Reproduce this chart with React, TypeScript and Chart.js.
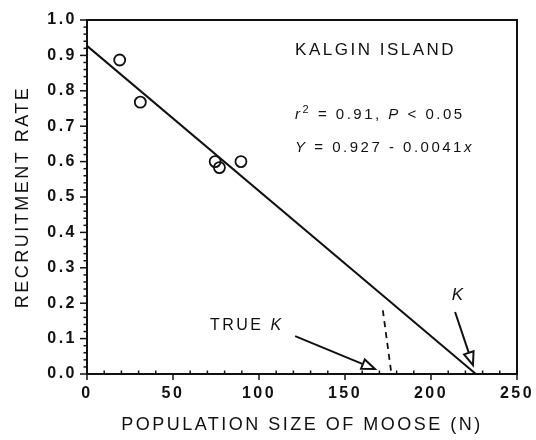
import React, { useEffect, useRef } from "react";
import { Chart, registerables } from "chart.js";

Chart.register(...registerables);

// ---- data ----
const moosePopulation = [19, 31, 74.5, 77, 89.5];
const recruitmentRate = [0.887, 0.768, 0.6, 0.583, 0.6];

// regression Y = 0.927 - 0.0041x
const regIntercept = 0.927;
const regSlope = -0.0041;
const regXIntercept = regIntercept / -regSlope; // K

// dashed drop line to TRUE K
const trueKDropX = [172, 177];
const trueKDropY = [0.18, 0];

const xMin = 0;
const xMax = 250;
const xStep = 50;
const yMin = 0;
const yMax = 1;
const yStep = 0.1;

// annotation anchors (data units)
const annotKalgin = { x: 121, y: 0.915 };
const annotR2 = { x: 121, y: 0.732 };
const annotEq = { x: 121, y: 0.638 };
const annotTrueK = { x: 71.5, y: 0.138 };
const annotK = { x: 212, y: 0.223 };
const arrowTrueK = { from: [121, 0.107], to: [167.4, 0.014] };
const arrowK = { from: [214, 0.175], to: [224.4, 0.025] };

const INK = "#111";
const FAMILY = "'Liberation Sans', Arial, sans-serif";
const SPACING = "2.5px";

type Part = { t: string; italic?: boolean; sup?: boolean };

function drawRich(ctx: CanvasRenderingContext2D, x: number, y: number, parts: Part[], size: number) {
  let cx = x;
  for (const p of parts) {
    const fs = p.sup ? Math.round(size * 0.7) : size;
    ctx.font = `${p.italic ? "italic " : ""}${fs}px ${FAMILY}`;
    const dy = p.sup ? -size * 0.33 : 0;
    ctx.fillText(p.t, cx, y + dy);
    cx += ctx.measureText(p.t).width;
  }
}

function drawArrow(ctx: CanvasRenderingContext2D, x1: number, y1: number, x2: number, y2: number) {
  const ang = Math.atan2(y2 - y1, x2 - x1);
  const len = 13;
  const half = 5;
  const bx = x2 - Math.cos(ang) * len;
  const by = y2 - Math.sin(ang) * len;
  ctx.beginPath();
  ctx.moveTo(x1, y1);
  ctx.lineTo(bx, by);
  ctx.stroke();
  const px = -Math.sin(ang) * half;
  const py = Math.cos(ang) * half;
  ctx.beginPath();
  ctx.moveTo(x2, y2);
  ctx.lineTo(bx + px, by + py);
  ctx.lineTo(bx - px, by - py);
  ctx.closePath();
  ctx.fillStyle = "#fff";
  ctx.fill();
  ctx.stroke();
}

const spacingPlugin = {
  id: "spacing",
  beforeUpdate(chart: any) {
    (chart.ctx as any).letterSpacing = SPACING;
  },
  beforeDraw(chart: any) {
    (chart.ctx as any).letterSpacing = SPACING;
  },
};

const framePlugin = {
  id: "frame",
  afterDraw(chart: any) {
    const { ctx, chartArea: a, scales } = chart;
    const xs = scales.x;
    const ys = scales.y;
    ctx.save();
    ctx.strokeStyle = INK;
    ctx.lineCap = "butt";
    // top & right border
    ctx.lineWidth = 2;
    ctx.beginPath();
    ctx.moveTo(a.left, a.top);
    ctx.lineTo(a.right, a.top);
    ctx.lineTo(a.right, a.bottom);
    ctx.stroke();
    // y ticks: major outside, minor outside shorter
    ctx.lineWidth = 1.5;
    const nY = Math.round((yMax - yMin) / (yStep / 5));
    for (let i = 0; i <= nY; i++) {
      const v = yMin + (i * yStep) / 5;
      const py = ys.getPixelForValue(v);
      const major = i % 5 === 0;
      ctx.beginPath();
      ctx.moveTo(a.left - (major ? 7 : 3.5), py);
      ctx.lineTo(a.left, py);
      ctx.stroke();
    }
    // x ticks: major downward, minor upward
    const nX = Math.round((xMax - xMin) / (xStep / 5));
    for (let i = 0; i <= nX; i++) {
      const v = xMin + (i * xStep) / 5;
      const px = xs.getPixelForValue(v);
      const major = i % 5 === 0;
      ctx.beginPath();
      if (major) {
        ctx.moveTo(px, a.bottom);
        ctx.lineTo(px, a.bottom + 6);
      } else {
        ctx.moveTo(px, a.bottom);
        ctx.lineTo(px, a.bottom - 3.5);
      }
      ctx.stroke();
    }

    // annotations
    (ctx as any).letterSpacing = SPACING;
    ctx.fillStyle = INK;
    ctx.textBaseline = "middle";
    ctx.textAlign = "left";
    const P = (o: { x: number; y: number }) => [xs.getPixelForValue(o.x), ys.getPixelForValue(o.y)];
    let [tx, ty] = P(annotKalgin);
    drawRich(ctx, tx, ty, [{ t: "KALGIN ISLAND" }], 17);
    [tx, ty] = P(annotR2);
    drawRich(
      ctx,
      tx,
      ty,
      [{ t: "r", italic: true }, { t: "2", sup: true }, { t: " = 0.91, " }, { t: "P", italic: true }, { t: " < 0.05" }],
      15
    );
    [tx, ty] = P(annotEq);
    drawRich(ctx, tx, ty, [{ t: "Y", italic: true }, { t: " = 0.927 - 0.0041" }, { t: "x", italic: true }], 15);
    [tx, ty] = P(annotTrueK);
    drawRich(ctx, tx, ty, [{ t: "TRUE " }, { t: "K", italic: true }], 16);
    [tx, ty] = P(annotK);
    drawRich(ctx, tx, ty, [{ t: "K", italic: true }], 17);

    ctx.lineWidth = 2;
    ctx.strokeStyle = INK;
    for (const ar of [arrowTrueK, arrowK]) {
      drawArrow(
        ctx,
        xs.getPixelForValue(ar.from[0]),
        ys.getPixelForValue(ar.from[1]),
        xs.getPixelForValue(ar.to[0]),
        ys.getPixelForValue(ar.to[1])
      );
    }
    ctx.restore();
  },
};

export default function App() {
  const ref = useRef<HTMLCanvasElement | null>(null);
  useEffect(() => {
    document.body.style.margin = "0";
    const canvas = ref.current!;
    const points = moosePopulation.map((x, i) => ({ x, y: recruitmentRate[i] }));
    const chart = new Chart(canvas, {
      type: "scatter",
      data: {
        datasets: [
          {
            label: "Observed",
            data: points,
            showLine: false,
            pointStyle: "circle",
            pointRadius: 5.5,
            pointBorderWidth: 1.8,
            pointBackgroundColor: "rgba(255,255,255,0)",
            pointBorderColor: INK,
          },
          {
            label: "Regression",
            type: "line",
            data: [
              { x: 0, y: regIntercept },
              { x: regXIntercept, y: regIntercept + regSlope * regXIntercept },
            ],
            borderColor: INK,
            borderWidth: 2,
            pointRadius: 0,
            fill: false,
          },
          {
            label: "True K",
            type: "line",
            data: trueKDropX.map((x, i) => ({ x, y: trueKDropY[i] })),
            borderColor: INK,
            borderWidth: 1.8,
            borderDash: [6, 5],
            pointRadius: 0,
            fill: false,
          },
        ],
      },
      options: {
        responsive: false,
        animation: false,
        devicePixelRatio: 1,
        layout: { padding: { left: 0, top: 20, right: 19, bottom: 0 } },
        plugins: { legend: { display: false }, tooltip: { enabled: false } },
        scales: {
          x: {
            type: "linear",
            min: xMin,
            max: xMax,
            grid: { display: false, drawTicks: false },
            border: { display: true, color: INK, width: 2 },
            ticks: {
              stepSize: xStep,
              color: INK,
              padding: 10,
              font: { family: FAMILY, size: 16, weight: "bold" },
              callback: (v: any) => String(v),
              maxRotation: 0,
            },
            title: {
              display: true,
              text: "POPULATION SIZE OF MOOSE (N)",
              color: INK,
              font: { family: FAMILY, size: 18 },
              padding: { top: 0, bottom: 4 },
            },
            afterFit: (s: any) => {
              s.height = 66;
              s.paddingLeft = 0;
              s.paddingRight = 0;
            },
          },
          y: {
            min: yMin,
            max: yMax,
            grid: { display: false, drawTicks: false },
            border: { display: true, color: INK, width: 2 },
            ticks: {
              stepSize: yStep,
              color: INK,
              padding: 10,
              font: { family: FAMILY, size: 16, weight: "bold" },
              callback: (v: any) => Number(v).toFixed(1),
            },
            title: {
              display: true,
              text: "RECRUITMENT RATE",
              color: INK,
              font: { family: FAMILY, size: 18 },
              padding: { top: 12, bottom: 0 },
            },
            afterFit: (s: any) => {
              s.width = 87;
              s.paddingTop = 0;
              s.paddingBottom = 0;
            },
          },
        },
      },
      plugins: [spacingPlugin, framePlugin],
    });
    return () => chart.destroy();
  }, []);
  return (
    <div style={{ width: 536, height: 440, background: "#fff" }}>
      <canvas ref={ref} width={536} height={440} />
    </div>
  );
}
